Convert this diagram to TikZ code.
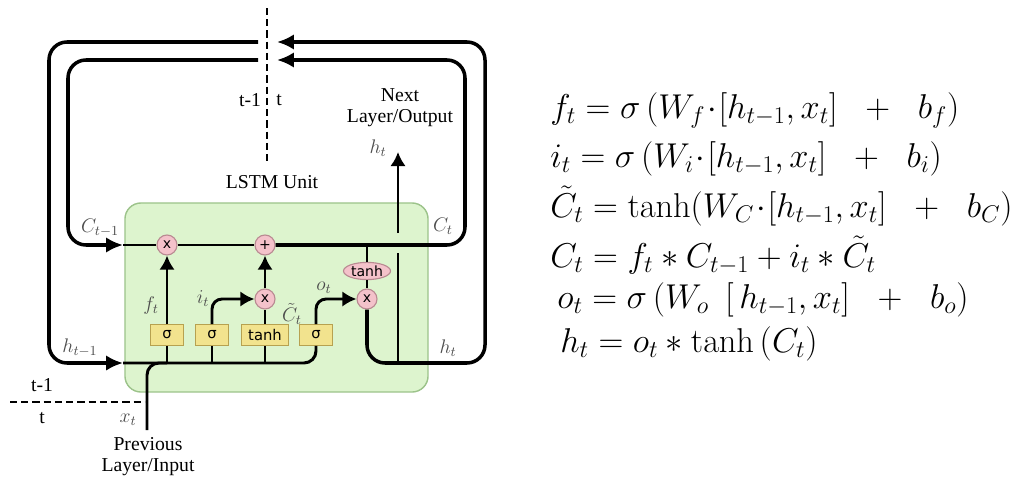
\RequirePackage{fix-cm}
\documentclass[tikz,border=0pt]{standalone}
\usepackage[no-math]{fontspec}
\usepackage{amsmath}
\usetikzlibrary{arrows.meta,shapes.geometric}
\newfontfamily\labelfont{Liberation Serif}
\newfontfamily\gatefont{DejaVu Sans}
\definecolor{cellGreen}{HTML}{DDF4CE}
\definecolor{cellBorder}{HTML}{9CC38A}
\definecolor{opPink}{HTML}{F4C2CA}
\definecolor{opBorder}{HTML}{B98A92}
\definecolor{gateYellow}{HTML}{F2E38E}
\definecolor{gateBorder}{HTML}{B7A150}
\begin{document}
\begin{tikzpicture}[x=0.025cm,y=-0.025cm,
cell/.style={draw=cellBorder,fill=cellGreen,line width=1pt,rounded corners=0.4cm,minimum width=7.575cm,minimum height=4.725cm},
gate/.style={draw=gateBorder,fill=gateYellow,line width=0.8pt,font=\gatefont\fontsize{10.5}{10.5}\selectfont,minimum width=0.825cm,minimum height=0.52cm,inner sep=1pt},
op/.style={circle,draw=opBorder,fill=opPink,line width=0.8pt,font=\gatefont\fontsize{10}{10}\selectfont,minimum size=0.5cm,inner sep=0pt},
opOval/.style={ellipse,draw=opBorder,fill=opPink,line width=0.8pt,font=\gatefont\fontsize{10}{10}\selectfont,minimum width=1.175cm,minimum height=0.43cm,inner sep=0pt},
wire/.style={line width=2.1pt},
loop/.style={line width=2.5pt,rounded corners=0.45cm},
bigTip/.style={-{Latex[length=12pt,width=11pt]}},
smallTip/.style={-{Latex[length=10pt,width=11pt]}},
caption/.style={font=\labelfont\fontsize{14}{15}\selectfont,align=center,inner sep=0pt},
var/.style={text=black!70,font=\fontsize{14}{14}\selectfont,inner sep=0pt},
eq/.style={anchor=base west,font=\fontsize{24.5}{24.5}\selectfont,inner sep=0pt}]
\useasboundingbox (0,0) rectangle (1024,480);

\node[cell] (cell) at (276.5,297.5) {};

\node[op] (mulF) at (167,245) {x};
\node[op] (addC) at (265,245) {+};
\node[op] (mulI) at (265,299) {x};
\node[opOval] (tanhC) at (367,271) {tanh};
\node[op] (mulO) at (367,299) {x};

\node[gate] (sigF) at (167,335) {σ};
\node[gate] (sigI) at (212,335) {σ};
\node[gate,minimum width=1.175cm] (tanhG) at (265,335) {tanh};
\node[gate] (sigO) at (316,335) {σ};

\coordinate (cin) at (123,245);
\coordinate (hin) at (123,363);
\coordinate (cTap) at (367,245);
\coordinate (cRight) at (465,245);
\coordinate (cTopR) at (465,60);
\coordinate (cArrow) at (277,60);
\coordinate (cGapL) at (258,60);
\coordinate (cTopL) at (68,60);
\coordinate (cLeft) at (68,245);
\coordinate (hTurn) at (367,363);
\coordinate (hRight) at (485,363);
\coordinate (hTopR) at (485,42);
\coordinate (hArrow) at (277,42);
\coordinate (hGapL) at (258,42);
\coordinate (hTopL) at (49,42);
\coordinate (hLeft) at (49,363);
\coordinate (hTap) at (398,363);
\coordinate (gapLow) at (398,253);
\coordinate (gapHigh) at (398,233);
\coordinate (hOutTip) at (398,152);
\coordinate (xBot) at (147,430);
\coordinate (dashTop) at (267,8);
\coordinate (dashBot) at (267,163);
\coordinate (splitL) at (10,402);
\coordinate (splitR) at (145,402);

\draw[loop,bigTip] (hGapL) -- (hTopL) -- (hLeft) -- (hin);
\draw[loop,bigTip] (cGapL) -- (cTopL) -- (cLeft) -- (cin);
\draw[loop,bigTip] (mulO) -- (hTurn) -- (hRight) -- (hTopR) -- (hArrow);
\draw[loop,bigTip] (addC) -- (cRight) -- (cTopR) -- (cArrow);
\draw[wire] (cin) -- (mulF);
\draw[wire] (mulF) -- (addC);
\draw[wire] (cTap) -- (tanhC);
\draw[wire] (tanhC) -- (mulO);
\draw[wire] (hTap) -- (gapLow);
\draw[wire,smallTip] (gapHigh) -- (hOutTip);

\draw[wire,rounded corners=0.3cm] (hin) -- (sigO.south |- hin) -- (sigO.south);
\draw[wire,rounded corners=0.3cm] (xBot) |- (sigF.south |- hin);
\draw[wire] (sigF.south |- hin) -- (sigF);
\draw[wire] (sigI.south |- hin) -- (sigI);
\draw[wire] (tanhG.south |- hin) -- (tanhG);
\draw[wire,smallTip] (sigF) -- (mulF);
\draw[wire,smallTip,rounded corners=0.25cm] (sigI.north) |- (mulI);
\draw[wire] (tanhG) -- (mulI);
\draw[wire,smallTip] (mulI) -- (addC);
\draw[wire,smallTip,rounded corners=0.25cm] (sigO.north) |- (mulO);

\draw[line width=1.6pt,dash pattern=on 5pt off 3pt] (dashTop) -- (dashBot);
\draw[line width=1.6pt,dash pattern=on 5pt off 3pt] (splitL) -- (splitR);

\node[caption] (tPrevTop) at (250,100) {t-1};
\node[caption] (tNowTop) at (279,100) {t};
\node[caption] (nextOut) at (400,108) {Next\\Layer/Output};
\node[caption] (unitName) at (272,182) {LSTM Unit};
\node[caption] (tPrevLow) at (42,385) {t-1};
\node[caption] (tNowLow) at (42,418) {t};
\node[caption] (prevIn) at (148,457) {Previous\\Layer/Input};

\node[var] (hOutLabel) at (378,148) {$h_t$};
\node[var] (cPrevLabel) at (100,228) {$C_{t-1}$};
\node[var] (cNowLabel) at (443,226) {$C_t$};
\node[var] (hPrevLabel) at (80,348) {$h_{t-1}$};
\node[var] (hNowLabel) at (448,348) {$h_t$};
\node[var] (xLabel) at (128,420) {$x_t$};
\node[var] (fLabel) at (151,306) {$f_t$};
\node[var] (iLabel) at (203,299) {$i_t$};
\node[var] (cTildeLabel) at (292,314) {$\tilde{C}_t$};
\node[var] (oLabel) at (324,288) {$o_t$};

\node[eq] (eqF) at (550,118) {$f_t = \sigma\,(W_f\!\cdot\![h_{t-1},x_t]\ \;+\;\ b_f)$};
\node[eq] (eqI) at (550,167) {$i_t = \sigma\,(W_i\!\cdot\![h_{t-1},x_t]\ \;+\;\ b_i)$};
\node[eq] (eqCt) at (550,217) {$\tilde{C}_t = \tanh(W_C\!\cdot\![h_{t-1},x_t]\ \;+\;\ b_C)$};
\node[eq] (eqC) at (550,267) {$C_t = f_t * C_{t-1} + i_t * \tilde{C}_t$};
\node[eq] (eqO) at (557,308) {$o_t = \sigma\,(W_o\ \,[\,h_{t-1},x_t]\ \;+\;\ b_o)$};
\node[eq] (eqH) at (560,352) {$h_t = o_t * \tanh\,(C_t)$};
\end{tikzpicture}
\end{document}
